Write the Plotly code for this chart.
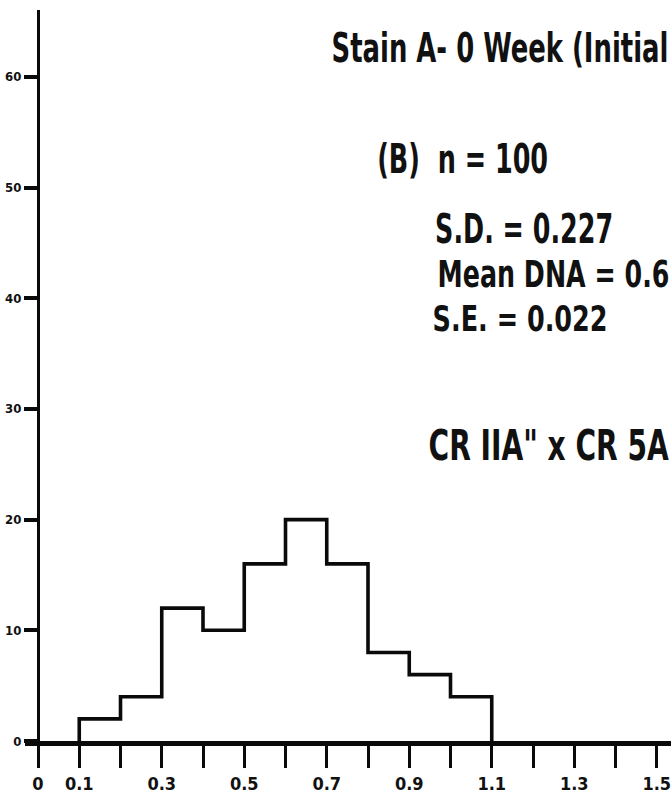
import json
import plotly.graph_objects as go

# ---- data ----
bin_edges = [0.1, 0.2, 0.3, 0.4, 0.5, 0.6, 0.7, 0.8, 0.9, 1.0, 1.1]
counts = [2, 4, 12, 10, 16, 20, 16, 8, 6, 4]

x_tick_vals = [0, 0.1, 0.2, 0.3, 0.4, 0.5, 0.6, 0.7, 0.8, 0.9, 1.0, 1.1, 1.2, 1.3, 1.4, 1.5]
x_tick_text = ["0", "0.1", "", "0.3", "", "0.5", "", "0.7", "", "0.9", "", "1.1", "", "1.3", "", "1.5"]
y_tick_vals = [0, 10, 20, 30, 40, 50, 60]
y_tick_text = ["0", "10", "20", "30", "40", "50", "60"]

text_lines = ["Stain A- 0 Week (Initial", "(B)  n = 100", "S.D. = 0.227",
              "Mean DNA = 0.6", "S.E. = 0.022", "CR IIA\" x CR 5A"]
# (left px, right px, cap-centre px, font size) of each text block
text_boxes = [(332, 669, 47, 41), (377, 548, 158, 40), (435, 613, 228, 40),
              (437, 669, 273, 38), (432, 607, 317, 36), (428, 669, 444, 42)]

# ---- layout geometry ----
W, H = 671, 809
ml, mr, mt, mb = 25, 0, 10, 68
pw, ph = W - ml - mr, H - mt - mb
px_per_x = 412.5
x0_px = 38
xmin = -(x0_px - ml) / px_per_x
xmax = xmin + pw / px_per_x
px_per_y = 11.07
ymax = ph / px_per_y

FONT = "DejaVu Sans Condensed, Liberation Sans Narrow, sans-serif"


def px2paper(px, py):
    return (px - ml) / pw, (H - mb - py) / ph


# step outline of histogram
sx = [bin_edges[0]] + bin_edges[:-1] + [bin_edges[-1], bin_edges[-1]]
sy = [0] + counts + [counts[-1], 0]

fig = go.Figure()
fig.add_trace(go.Scatter(
    x=sx, y=sy, mode="lines", line=dict(shape="hv", color="#0a0a0a", width=3.6),
    hoverinfo="skip", showlegend=False))

annotations = []
widths = []
for txt, (l, r, cy, fs) in zip(text_lines, text_boxes):
    ax, ay = px2paper((l + r) / 2, cy + 1)
    widths.append(r - l)
    annotations.append(dict(text=txt, x=ax, y=ay, xref="paper", yref="paper",
                            xanchor="center", yanchor="middle", align="center",
                            showarrow=False, borderpad=0,
                            font=dict(family=FONT, size=fs, color="#111",
                                      weight="bold")))

fig.update_layout(
    width=W, height=H, margin=dict(l=ml, r=mr, t=mt, b=mb, pad=0),
    paper_bgcolor="white", plot_bgcolor="white",
    showlegend=False, annotations=annotations,
    xaxis=dict(range=[xmin, xmax], showgrid=False, zeroline=False,
               showline=True, linecolor="#0a0a0a", linewidth=5,
               ticks="outside", ticklen=22, tickwidth=3, tickcolor="#0a0a0a",
               tickvals=x_tick_vals, ticktext=x_tick_text,
               ticklabeloverflow="allow",
               tickfont=dict(family=FONT, size=18, color="#111", weight="bold")),
    yaxis=dict(range=[0, ymax], showgrid=False, zeroline=False,
               anchor="free", position=(x0_px - ml) / pw,
               showline=True, linecolor="#0a0a0a", linewidth=3,
               ticks="outside", ticklen=13, tickwidth=4, tickcolor="#0a0a0a",
               tickvals=y_tick_vals, ticktext=y_tick_text,
               tickfont=dict(family=FONT, size=13, color="#111", weight="bold")),
)

# condense each annotation horizontally (the reference uses a narrow typeface)
post = (
    "var gd = document.getElementById('{plot_id}');"
    "var w = " + json.dumps(widths) + ";"
    "var els = gd.querySelectorAll('.annotation-text');"
    "for (var i = 0; i < els.length && i < w.length; i++) {"
    "  var el = els[i];"
    "  var bb = el.getBBox();"
    "  if (!bb.width) continue;"
    "  var s = w[i] / bb.width;"
    "  var cx = bb.x + bb.width / 2;"
    "  var t0 = el.getAttribute('transform') || '';"
    "  el.setAttribute('transform', t0 + ' translate(' + cx + ',0) scale(' + s + ',1) translate(' + (-cx) + ',0)');"
    "}"
)

fig.write_html("out.html", post_script=post)
